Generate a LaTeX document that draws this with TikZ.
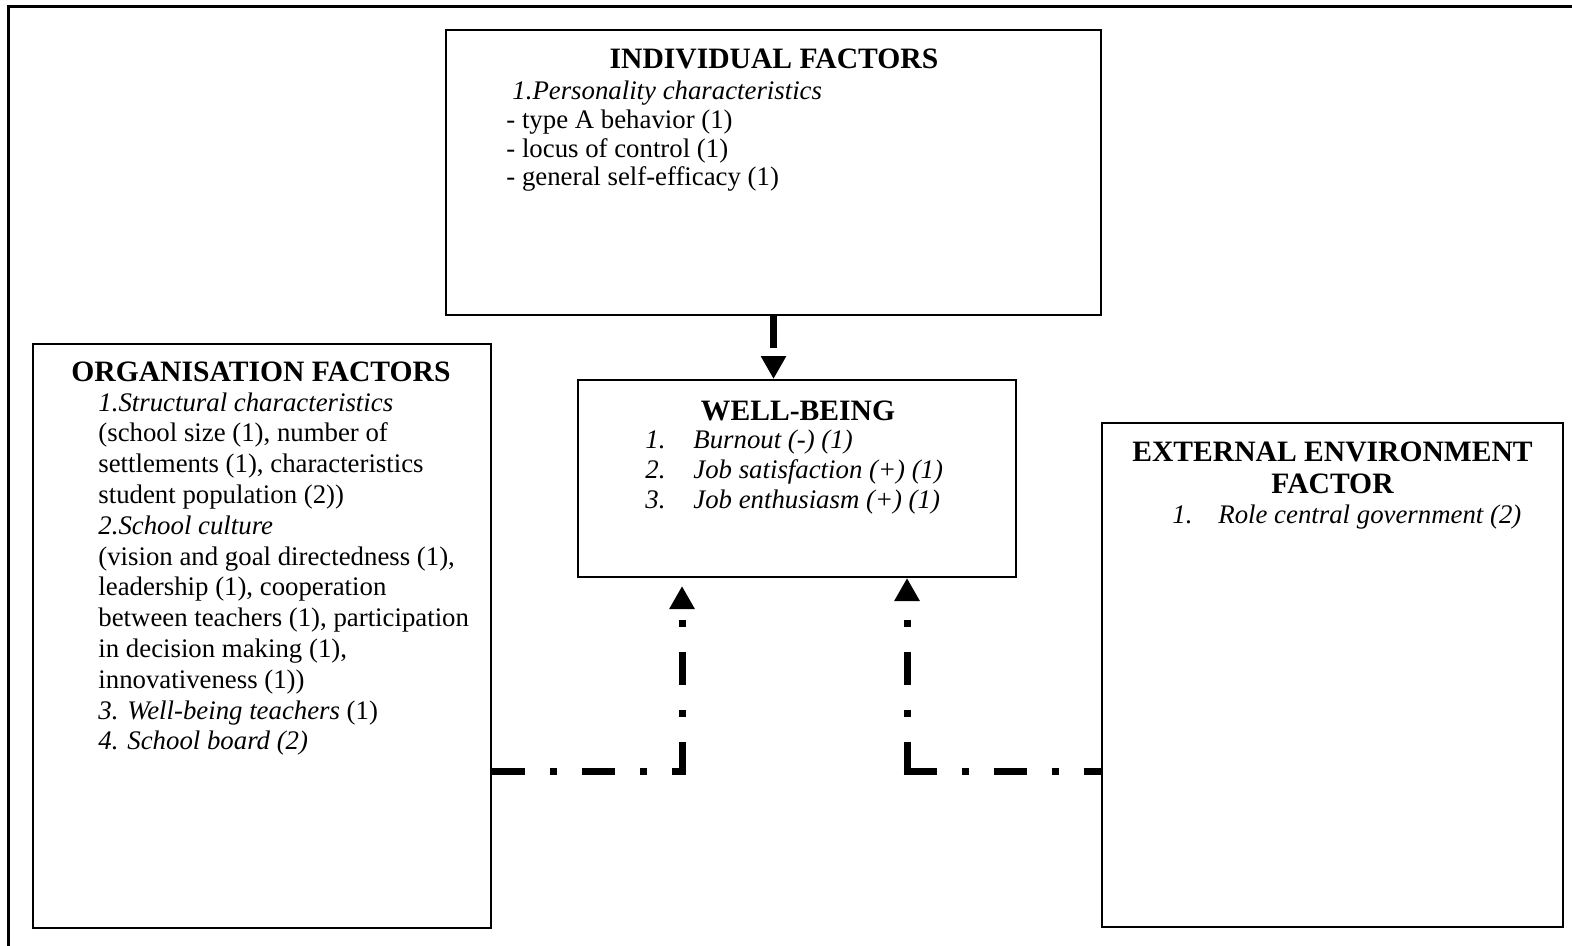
\documentclass[tikz,border=0pt]{standalone}
\usepackage{fontspec}
\setmainfont{Liberation Serif}
\usetikzlibrary{arrows.meta}

\newcommand{\factorlist}[2]{\parbox[t]{#1}{\raggedright #2}}
\newcommand{\numitem}[2]{\makebox[#1][l]{\textit{#2}}}

\tikzset{
  factorbox/.style={draw, line width=1pt, inner sep=0pt},
  headtext/.style={inner sep=0pt, anchor=base, font=\fontsize{14.8}{16}\selectfont\bfseries},
  listtext/.style={inner sep=0pt, anchor=base west, font=\fontsize{13.4}{#1}\selectfont},
  tiptri/.style={-{Triangle[width=12pt, length=11.5pt]}},
  dashlink/.style={line width=3.5pt, dash pattern=on 16pt off 8pt, tiptri},
  dashdotlink/.style={line width=3.5pt, dash pattern=on 16.5pt off 12.5pt on 3.5pt off 12.5pt}
}

\begin{document}
\begin{tikzpicture}[x=0.5pt, y=-0.5pt]
    \useasboundingbox (0,0) rectangle (1572,946);

    % Outer frame (only top and left edges fall inside)
    \draw[line width=1.5pt] (8,946) -- (8,6.5) -- (1572,6.5);

    % Factor boxes
    \node[factorbox, minimum width=327.5pt, minimum height=142.5pt] (indiv) at (773.5,172.5) {};
    \node[factorbox, minimum width=229pt, minimum height=292pt] (org) at (262,636) {};
    \node[factorbox, minimum width=219pt, minimum height=98.5pt] (well) at (797,478.5) {};
    \node[factorbox, minimum width=230.5pt, minimum height=252pt] (ext) at (1332.5,675) {};

    % Individual factors
    \node[headtext] (indivhead) at (774,69) {INDIVIDUAL FACTORS};
    \node[listtext=14.3pt] (indivlist) at (506,100) {\factorlist{300pt}{%
      \hspace*{3pt}\textit{1.Personality characteristics}\\
      - type A behavior (1)\\
      - locus of control (1)\\
      - general self-efficacy (1)}};

    % Organisation factors
    \node[headtext] (orghead) at (261,381) {ORGANISATION FACTORS};
    \node[listtext=15.4pt] (orglist) at (98,411) {\factorlist{210pt}{%
      \textit{1.Structural characteristics}\\
      (school size (1), number of\\
      settlements (1), characteristics\\
      student population (2))\\
      \textit{2.School culture}\\
      (vision and goal directedness (1),\\
      leadership (1), cooperation\\
      between teachers (1), participation\\
      in decision making (1),\\
      innovativeness (1))\\
      \textit{3. Well-being teachers} (1)\\
      \textit{4. School board (2)}}};

    % Well-being
    \node[headtext] (wellhead) at (798,420) {WELL-BEING};
    \node[listtext=15pt] (welllist) at (645,448) {\factorlist{200pt}{%
      \numitem{24pt}{1.}\textit{Burnout (-) (1)}\\
      \numitem{24pt}{2.}\textit{Job satisfaction (+) (1)}\\
      \numitem{24pt}{3.}\textit{Job enthusiasm (+) (1)}}};

    % External environment factor
    \node[headtext] (exthead) at (1332.5,461) {\parbox[t]{225pt}{\centering EXTERNAL ENVIRONMENT\\FACTOR}};
    \node[listtext=15pt] (extlist) at (1172,523) {\factorlist{200pt}{%
      \numitem{23pt}{1.}\textit{Role central government (2)}}};

    % Links into well-being
    \coordinate (lbend) at (682,771);
    \coordinate (rbend) at (907,771);

    \draw[dashlink] (indiv.south) -- (indiv.south |- well.north);

    \draw[dashdotlink] (org.east |- lbend) -- ([xshift=1.75pt]lbend);
    \draw[dashdotlink, tiptri, shorten >=4pt] ([yshift=-1.75pt]lbend) -- (lbend |- well.south);

    \draw[dashdotlink] ([xshift=-1.75pt]rbend) -- (ext.west |- rbend);
    \draw[dashdotlink, tiptri] ([yshift=-1.75pt]rbend) -- (rbend |- well.south);
\end{tikzpicture}
\end{document}
